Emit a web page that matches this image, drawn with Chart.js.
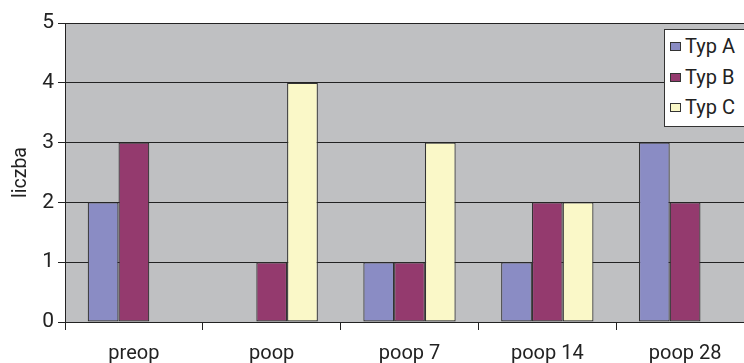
<!DOCTYPE html>
<html>
<head>
<meta charset="utf-8">
<script src="https://cdn.jsdelivr.net/npm/chart.js@4/dist/chart.umd.min.js"></script>
<style>
  html, body { margin: 0; padding: 0; background: #fff; overflow: hidden; }
  #wrap { position: relative; width: 744px; height: 363px; overflow: hidden; }
  #c { position: absolute; left: 0; top: 0; width: 772px; height: 363px; }
  #legend { position: absolute; left: 664px; top: 29px; width: 100px; height: 98px;
    background: #fff; border: 1px solid #333; box-sizing: border-box;
    font-family: Roboto, sans-serif; font-size: 20px; color: #222; }
  .item { position: absolute; left: 5px; height: 22px; line-height: 22px; white-space: nowrap; }
  .sw { display: inline-block; width: 11px; height: 9px; border: 1px solid #333; margin-right: 4px; vertical-align: 2px; box-sizing: border-box; }
</style>
</head>
<body>
<div id="wrap">
  <canvas id="c" width="772" height="363"></canvas>
  <div id="legend"></div>
</div>
<script>
const categories = ["preop", "poop", "poop 7", "poop 14", "poop 28"];
const seriesNames = ["Typ A", "Typ B", "Typ C"];
const typA = [2, 0, 1, 1, 3];
const typB = [3, 1, 1, 2, 2];
const typC = [0, 4, 3, 2, 0];
const yTicks = [0, 1, 2, 3, 4, 5];
const colors = ["#8a8cc4", "#943a6e", "#faf8c8"];
const FONT = 'Roboto, sans-serif';

const plotBg = {
  id: 'plotBg',
  beforeDraw(chart) {
    const a = chart.chartArea, ctx = chart.ctx;
    ctx.save();
    ctx.fillStyle = '#bfc0c2';
    ctx.fillRect(a.left, a.top, a.right - a.left, a.bottom - a.top);
    ctx.restore();
  }
};

const values = [typA, typB, typC];
const chart = new Chart(document.getElementById('c'), {
  type: 'bar',
  data: {
    labels: categories,
    datasets: seriesNames.map((n, i) => ({
      label: n,
      data: values[i],
      backgroundColor: colors[i],
      borderColor: '#333333',
      borderWidth: 1.2,
      borderSkipped: false,
      categoryPercentage: 0.67,
      barPercentage: 1.0
    }))
  },
  options: {
    responsive: false,
    animation: false,
    devicePixelRatio: 1,
    layout: { padding: { top: 23, right: 18, left: 0, bottom: 0 } },
    plugins: { legend: { display: false }, tooltip: { enabled: false } },
    scales: {
      x: {
        grid: { display: true, drawOnChartArea: false, drawTicks: true, tickLength: 8, color: '#222', offset: true },
        border: { display: true, color: '#222', width: 1 },
        ticks: { color: '#222', font: { family: FONT, size: 20 }, padding: 12, maxRotation: 0 },
        afterFit(s) { s.height = 41; }
      },
      y: {
        min: 0, max: 5,
        afterBuildTicks(s) { s.ticks = yTicks.map(v => ({ value: v })); },
        grid: { color: '#222', lineWidth: 1, drawTicks: true, tickLength: 7 },
        border: { display: true, color: '#222', width: 1 },
        ticks: { color: '#222', font: { family: FONT, size: 21 }, padding: 4 },
        title: { display: true, text: 'liczba', color: '#222', font: { family: FONT, size: 19.5 }, padding: { top: 9, bottom: 0 } },
        afterFit(s) { s.width = 65; }
      }
    }
  },
  plugins: [plotBg]
});

const lg = document.getElementById('legend');
seriesNames.forEach((n, i) => {
  const d = document.createElement('div');
  d.className = 'item';
  d.style.top = (5 + i * 30.5) + 'px';
  d.innerHTML = '<span class="sw" style="background:' + colors[i] + '"></span>' + n;
  lg.appendChild(d);
});
</script>
</body>
</html>
